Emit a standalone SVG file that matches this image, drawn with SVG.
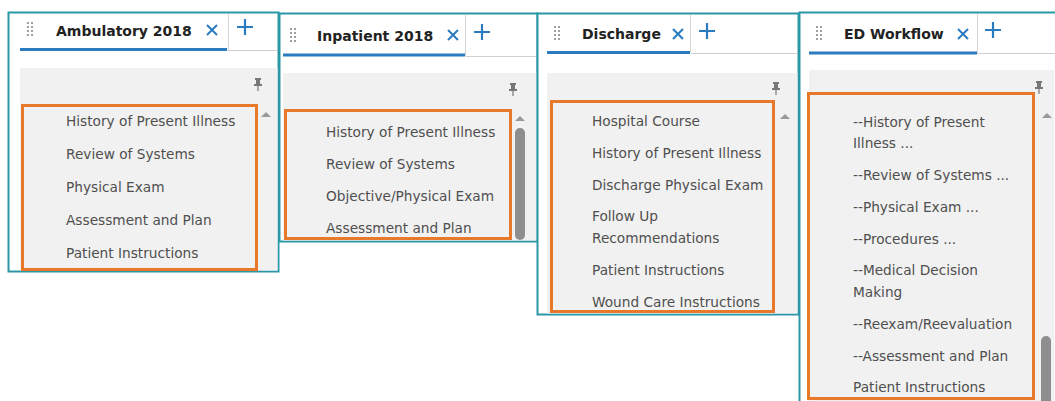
<svg xmlns="http://www.w3.org/2000/svg" width="1055" height="401" viewBox="0 0 1055 401">
<style>
.frame{fill:#ffffff;stroke:#2a97a6;stroke-width:2}
.content{fill:#f1f1f1}
.uline{stroke:#2b7bc0;stroke-width:3}
.sep{stroke:#d6d6d6;stroke-width:1}
.hline{stroke:#cfcfcf;stroke-width:1}
.title{font-family:"DejaVu Sans",sans-serif;font-weight:bold;font-size:14px;fill:#222}
.item{font-family:"DejaVu Sans",sans-serif;font-size:13.7px;fill:#4f4f4f}
.sel{fill:none;stroke:#e8782a;stroke-width:3}
.xic{stroke:#2b7bc0;stroke-width:2;fill:none}
.plus{stroke:#2b7bc0;stroke-width:2.2;fill:none}
.dot{fill:#888}
.arrow{fill:#9a9a9a}
.thumb{fill:#8e8e8e}
.pin{fill:#777}
</style>
<defs>
<g id="grip">
<circle class="dot" cx="0" cy="0" r="1.1"/><circle class="dot" cx="4" cy="0" r="1.1"/>
<circle class="dot" cx="0" cy="4" r="1.1"/><circle class="dot" cx="4" cy="4" r="1.1"/>
<circle class="dot" cx="0" cy="8" r="1.1"/><circle class="dot" cx="4" cy="8" r="1.1"/>
<circle class="dot" cx="0" cy="12" r="1.1"/><circle class="dot" cx="4" cy="12" r="1.1"/>
</g>
<g id="xmark"><path class="xic" d="M-5,-5 L5,5 M5,-5 L-5,5"/></g>
<g id="plusmark"><path class="plus" d="M-8,0 L8,0 M0,-8 L0,8"/></g>
<g id="pinmark"><path class="pin" d="M-3,-6 h6 v2 h-1 v4 h2 v2 h-8 v-2 h2 v-4 h-1 z M-0.6,2 h1.2 v5 h-1.2 z"/></g>
<g id="uparrow"><path class="arrow" d="M-5,3 L0,-2 L5,3 z"/></g>
</defs>

<g id="panel-ambulatory">
<rect class="frame" x="8.5" y="12.5" width="270" height="259"/>
<rect class="content" x="20" y="68" width="257.5" height="202.5"/>
<line class="hline" x1="228" y1="50.5" x2="278" y2="50.5"/>
<line class="uline" x1="20" y1="49.5" x2="227" y2="49.5"/>
<line class="sep" x1="228.5" y1="14" x2="228.5" y2="50"/>
<use href="#grip" x="28" y="23"/>
<text class="title" x="56" y="36">Ambulatory 2018</text>
<use href="#xmark" x="212" y="30"/>
<use href="#plusmark" x="245" y="27"/>
<use href="#pinmark" x="258" y="84"/>
<use href="#uparrow" x="266" y="114"/>
<rect class="sel" x="22.5" y="105.5" width="234" height="164"/>
<text class="item" x="66" y="126">History of Present Illness</text>
<text class="item" x="66" y="159">Review of Systems</text>
<text class="item" x="66" y="192">Physical Exam</text>
<text class="item" x="66" y="225">Assessment and Plan</text>
<text class="item" x="66" y="258">Patient Instructions</text>
</g>

<g id="panel-inpatient">
<rect class="frame" x="279.5" y="13.5" width="258" height="228"/>
<rect class="content" x="283" y="73" width="253.5" height="167.5"/>
<line class="hline" x1="466" y1="56.5" x2="537" y2="56.5"/>
<line class="uline" x1="283" y1="55" x2="465" y2="55"/>
<line class="sep" x1="465.5" y1="15" x2="465.5" y2="56"/>
<use href="#grip" x="291" y="29"/>
<text class="title" x="317" y="41">Inpatient 2018</text>
<use href="#xmark" x="453" y="35"/>
<use href="#plusmark" x="482" y="32"/>
<use href="#pinmark" x="513" y="89"/>
<use href="#uparrow" x="520" y="118"/>
<rect class="thumb" x="515" y="128" width="10" height="112" rx="5"/>
<rect class="sel" x="285.5" y="110.5" width="225" height="128"/>
<text class="item" x="326" y="137">History of Present Illness</text>
<text class="item" x="326" y="169">Review of Systems</text>
<text class="item" x="326" y="201">Objective/Physical Exam</text>
<text class="item" x="326" y="233">Assessment and Plan</text>
</g>

<g id="panel-discharge">
<rect class="frame" x="537.5" y="13.5" width="261" height="301"/>
<rect class="content" x="547" y="73" width="250.5" height="240.5"/>
<line class="hline" x1="691" y1="53.5" x2="798" y2="53.5"/>
<line class="uline" x1="547" y1="52.5" x2="690" y2="52.5"/>
<line class="sep" x1="690.5" y1="15" x2="690.5" y2="53"/>
<use href="#grip" x="555" y="27"/>
<text class="title" x="582" y="39">Discharge</text>
<use href="#xmark" x="678" y="34"/>
<use href="#plusmark" x="707" y="31"/>
<use href="#pinmark" x="776" y="88"/>
<use href="#uparrow" x="785" y="116"/>
<rect class="sel" x="551.5" y="101.5" width="222" height="210"/>
<text class="item" x="592" y="126">Hospital Course</text>
<text class="item" x="592" y="158">History of Present Illness</text>
<text class="item" x="592" y="190">Discharge Physical Exam</text>
<text class="item" x="592" y="221">Follow Up</text>
<text class="item" x="592" y="243">Recommendations</text>
<text class="item" x="592" y="275">Patient Instructions</text>
<text class="item" x="592" y="307">Wound Care Instructions</text>
</g>

<g id="panel-ed-workflow">
<rect class="frame" x="799.5" y="12.5" width="260" height="394"/>
<rect class="content" x="809" y="70" width="245" height="331"/>
<line class="hline" x1="978" y1="53.5" x2="1055" y2="53.5"/>
<line class="uline" x1="809" y1="53" x2="977" y2="53"/>
<line class="sep" x1="977.5" y1="14" x2="977.5" y2="54"/>
<use href="#grip" x="817" y="27"/>
<text class="title" x="844" y="39">ED Workflow</text>
<use href="#xmark" x="963" y="34"/>
<use href="#plusmark" x="993" y="30"/>
<use href="#pinmark" x="1039" y="87"/>
<use href="#uparrow" x="1047" y="115"/>
<rect class="thumb" x="1041" y="336" width="10" height="70" rx="5"/>
<rect class="sel" x="808.5" y="93.5" width="225" height="305"/>
<text class="item" x="853" y="127">--History of Present</text>
<text class="item" x="853" y="148">Illness ...</text>
<text class="item" x="853" y="180">--Review of Systems ...</text>
<text class="item" x="853" y="212">--Physical Exam ...</text>
<text class="item" x="853" y="244">--Procedures ...</text>
<text class="item" x="853" y="275">--Medical Decision</text>
<text class="item" x="853" y="297">Making</text>
<text class="item" x="853" y="329">--Reexam/Reevaluation</text>
<text class="item" x="853" y="361">--Assessment and Plan</text>
<text class="item" x="853" y="392">Patient Instructions</text>
</g>

<g id="connectors"></g>
</svg>
